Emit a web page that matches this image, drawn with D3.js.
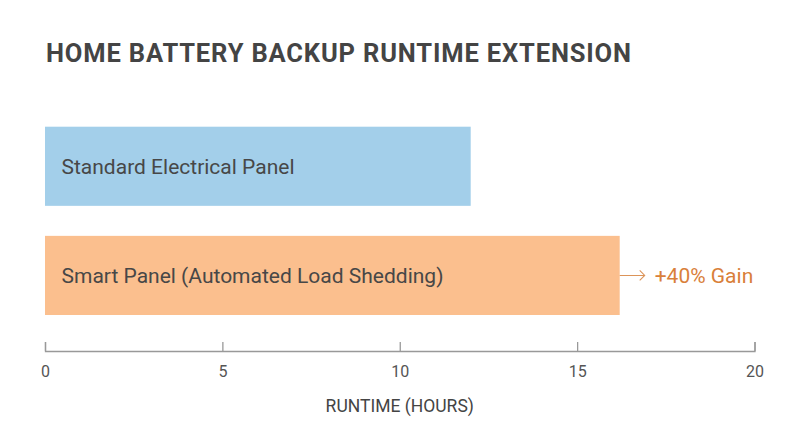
<!DOCTYPE html>
<html lang="en">
<head>
    <meta charset="UTF-8">
    <title>Home Battery Backup Runtime Extension</title>
    <script src="https://d3js.org/d3.v7.min.js"></script>
    <style>
        body { margin: 0; background: #fff; }
        text { font-family: Roboto, "Liberation Sans", sans-serif; }
    </style>
</head>
<body>
    <div id="chart"></div>

    <script>
        // Data
        var categories = ["Standard Electrical Panel", "Smart Panel (Automated Load Shedding)"];
        var runtimeHours = [12, 16.2];
        var barColors = ["#a3cfea", "#fbbf8e"];
        var xTicks = [0, 5, 10, 15, 20];
        var gainLabel = "+40% Gain";

        var width = 800, height = 447;

        var svg = d3.select("#chart")
            .append("svg")
            .attr("width", width)
            .attr("height", height);

        // Scales
        var x = d3.scaleLinear()
            .domain([0, 20])
            .range([45, 754.5]);

        var y = d3.scaleBand()
            .domain(categories)
            .range([126.7, 315])
            .paddingInner(0.275)
            .paddingOuter(0);

        // Title, spread out a bit to match the wider original face
        var title = svg.append("text")
            .attr("x", 46)
            .attr("y", 61.5)
            .attr("fill", "#444")
            .style("font-size", "25.5px")
            .style("font-weight", 700)
            .text("HOME BATTERY BACKUP RUNTIME EXTENSION");
        var titleLen = title.node().getComputedTextLength();
        var titleChars = title.text().length;
        title.style("letter-spacing", ((585 - titleLen) / (titleChars - 1)) + "px");

        // Bars
        svg.selectAll("rect.bar")
            .data(categories)
            .enter()
            .append("rect")
            .attr("class", "bar")
            .attr("x", x(0))
            .attr("y", function (d) { return y(d); })
            .attr("width", function (d, i) { return x(runtimeHours[i]) - x(0); })
            .attr("height", y.bandwidth())
            .attr("fill", function (d, i) { return barColors[i]; });

        // Labels inside bars
        svg.selectAll("text.bar-label")
            .data(categories)
            .enter()
            .append("text")
            .attr("class", "bar-label")
            .attr("x", x(0) + 16.5)
            .attr("y", function (d) { return y(d) + y.bandwidth() / 2; })
            .attr("dy", "0.36em")
            .attr("fill", "#474747")
            .style("font-size", "21px")
            .text(function (d) { return d; });

        // Gain annotation on the second bar
        var last = categories[1];
        var ay = y(last) + y.bandwidth() / 2;
        var ax = x(runtimeHours[1]);
        svg.append("path")
            .attr("d", "M" + ax + "," + ay + "H" + (ax + 25) + "M" + (ax + 20) + "," + (ay - 5) + "L" + (ax + 25) + "," + ay + "L" + (ax + 20) + "," + (ay + 5))
            .attr("fill", "none")
            .attr("stroke", "#dc9459")
            .attr("stroke-width", 1.1);
        svg.append("text")
            .attr("x", ax + 35)
            .attr("y", ay)
            .attr("dy", "0.36em")
            .attr("fill", "#d9803a")
            .style("font-size", "21px")
            .text(gainLabel);

        // X axis
        var axis = svg.append("g")
            .attr("transform", "translate(0,351)")
            .call(d3.axisBottom(x)
                .tickValues(xTicks)
                .tickSizeInner(-9)
                .tickSizeOuter(-9)
                .tickPadding(15));
        axis.select(".domain").attr("stroke", "#999").attr("stroke-width", 1.3);
        axis.selectAll(".tick line").attr("stroke", "#999").attr("stroke-width", 1.3);
        axis.selectAll(".tick text")
            .attr("fill", "#555")
            .style("font-size", "16px")
            .style("font-family", "Roboto, sans-serif");

        // Axis title
        svg.append("text")
            .attr("x", (x(0) + x(20)) / 2)
            .attr("y", 411.5)
            .attr("text-anchor", "middle")
            .attr("fill", "#444")
            .style("font-size", "17.5px")
            .text("RUNTIME (HOURS)");
    </script>
</body>
</html>
